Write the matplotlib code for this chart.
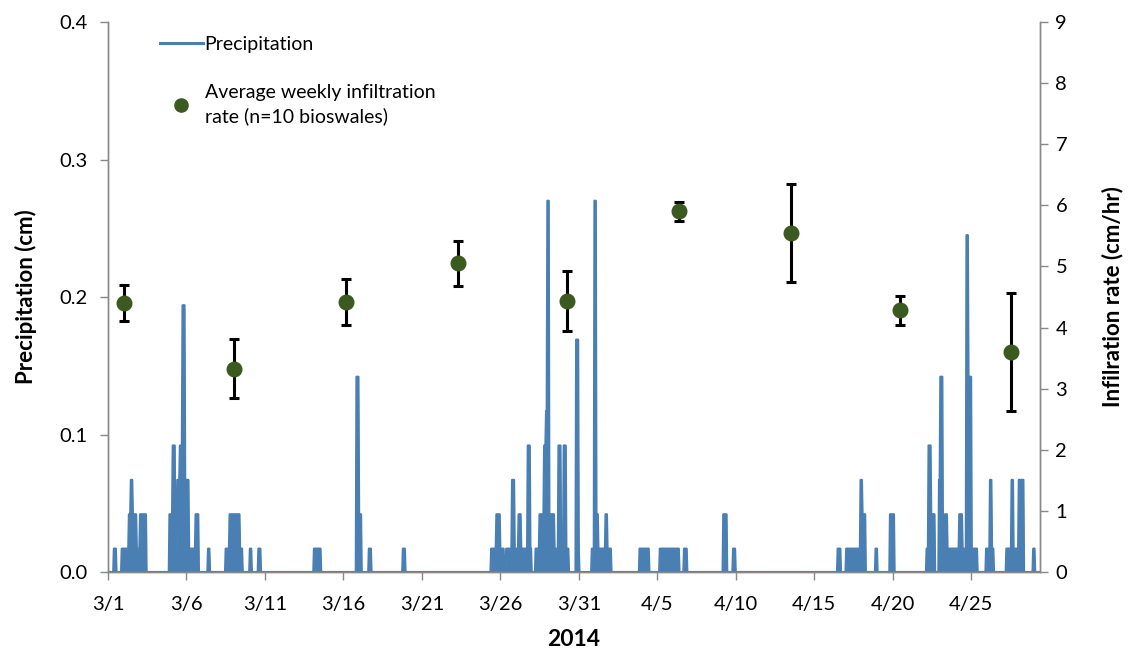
import numpy as np
import matplotlib
matplotlib.use("Agg")
import matplotlib.pyplot as plt
from matplotlib.lines import Line2D

plt.rcParams['font.family'] = ['Lato', 'DejaVu Sans']

seg_start = [0.34, 0.87, 1.30, 1.45, 1.55, 1.83, 2.04, 3.91, 4.12, 4.27, 4.40, 4.58, 4.75, 4.90,
             5.14, 5.58, 6.35, 7.50, 7.71, 8.41, 9.01, 9.58, 13.09, 15.83, 15.98, 16.59, 18.78,
             24.39, 24.73, 24.98, 25.37, 25.73, 25.88, 26.15, 26.30, 26.75, 26.90, 27.22, 27.47,
             27.79, 27.90, 27.98, 28.11, 28.43, 28.70, 28.85, 29.02, 29.17, 29.81, 29.96, 30.83,
             31.00, 31.12, 31.25, 31.68, 31.80, 33.86, 35.14, 36.67, 39.18, 39.81, 46.50, 47.04,
             47.93, 48.08, 48.89, 49.82, 52.14, 52.29, 52.45, 52.92, 53.03, 53.17, 53.33, 53.47,
             54.22, 54.45, 54.68, 54.83, 55.04, 55.92, 56.17, 56.32, 57.24, 57.55, 57.70, 58.02,
             58.95]
seg_end = [0.51, 1.30, 1.45, 1.55, 1.83, 2.04, 2.45, 4.12, 4.27, 4.40, 4.58, 4.75, 4.90, 5.14,
           5.58, 5.76, 6.50, 7.71, 8.41, 8.55, 9.16, 9.73, 13.55, 15.98, 16.15, 16.78, 18.93,
           24.73, 24.98, 25.24, 25.73, 25.88, 26.15, 26.30, 26.75, 26.90, 26.96, 27.47, 27.79,
           27.90, 27.98, 28.11, 28.43, 28.70, 28.85, 29.02, 29.17, 29.34, 29.96, 30.02, 31.00,
           31.12, 31.25, 31.68, 31.80, 32.06, 34.50, 36.41, 36.88, 39.45, 39.98, 46.70, 47.93,
           48.08, 48.29, 49.03, 50.12, 52.29, 52.45, 52.68, 53.03, 53.17, 53.33, 53.47, 54.22,
           54.45, 54.68, 54.83, 55.04, 55.40, 56.17, 56.32, 56.42, 57.55, 57.70, 58.02, 58.34,
           59.08]
seg_value = [0.017, 0.017, 0.042, 0.067, 0.042, 0.017, 0.042, 0.042, 0.092, 0.017, 0.067, 0.092,
             0.194, 0.067, 0.017, 0.042, 0.017, 0.017, 0.042, 0.017, 0.017, 0.017, 0.017, 0.142,
             0.042, 0.017, 0.017, 0.017, 0.042, 0.017, 0.017, 0.067, 0.017, 0.042, 0.017, 0.092,
             0.017, 0.017, 0.042, 0.092, 0.117, 0.270, 0.042, 0.017, 0.092, 0.017, 0.092, 0.017,
             0.169, 0.017, 0.017, 0.270, 0.042, 0.017, 0.042, 0.017, 0.017, 0.017, 0.017, 0.042,
             0.017, 0.017, 0.017, 0.067, 0.042, 0.017, 0.042, 0.017, 0.092, 0.042, 0.067, 0.142,
             0.017, 0.042, 0.017, 0.042, 0.017, 0.245, 0.142, 0.017, 0.017, 0.067, 0.017, 0.017,
             0.067, 0.017, 0.067, 0.017]

# Weekly infiltration (days after 3/1, cm/hr, +/- error)
inf_day = [1.02, 8.03, 15.17, 22.30, 29.25, 36.40, 43.50, 50.50, 57.55]
inf_rate = [4.40, 3.33, 4.42, 5.05, 4.43, 5.90, 5.55, 4.28, 3.60]
inf_err = [0.30, 0.49, 0.38, 0.37, 0.49, 0.16, 0.80, 0.23, 0.97]

tick_days = [0, 5, 10, 15, 20, 25, 30, 35, 40, 45, 50, 55]
tick_labels = ['3/1', '3/6', '3/11', '3/16', '3/21', '3/26', '3/31', '4/5', '4/10', '4/15', '4/20', '4/25']

# build the hourly series from the runs
hours = np.arange(0, 59.4 * 24) / 24.0
precip = np.zeros(len(hours))
for s, e, v in zip(seg_start, seg_end, seg_value):
    precip[(hours >= s) & (hours < e)] = v

blue = '#4a7fb3'
green = '#3a5a1f'
grey = '#898989'

fig = plt.figure(figsize=(11.37, 6.53), dpi=100)
ax = fig.add_axes([0.095, 0.124, 0.8198, 0.8423])
ax2 = ax.twinx()

# the hourly record is so dense in the original that the bursts read as solid
ax.fill_between(hours, precip, 0, color=blue, lw=0)
ax.plot(hours, precip, color=blue, lw=1.6)
ax2.errorbar(inf_day, inf_rate, yerr=inf_err, fmt='o', color=green, ms=10.5,
             ecolor='black', elinewidth=2.2, capsize=3.5, capthick=2.2)

ax.set_xlim(0, 59.4)
ax.set_ylim(0, 0.4)
ax2.set_ylim(0, 9)
ax.set_yticks([0, 0.1, 0.2, 0.3, 0.4])
ax.set_yticklabels(['0.0', '0.1', '0.2', '0.3', '0.4'])
ax2.set_yticks(range(0, 10))
ax.set_xticks(tick_days)
ax.set_xticklabels(tick_labels)

for a in (ax, ax2):
    a.spines['top'].set_visible(False)
    for side in ('left', 'right', 'bottom'):
        a.spines[side].set_color(grey)
        a.spines[side].set_linewidth(1.0)
    a.tick_params(axis='both', colors=grey, labelcolor='black', labelsize=14.5,
                  direction='out', length=6, width=1)
ax.tick_params(axis='y', pad=9)
ax.tick_params(axis='x', pad=11)
ax2.tick_params(axis='y', pad=5)

ax.set_ylabel('Precipitation (cm)', fontsize=16, fontweight='bold', labelpad=16)
ax2.set_ylabel('Infilration rate (cm/hr)', fontsize=16, fontweight='bold', labelpad=25)
ax.set_xlabel('2014', fontsize=16.5, fontweight='bold', labelpad=12)

handles = [Line2D([], [], color=blue, lw=2.2),
           Line2D([], [], ls='none', marker='o', ms=9.5, color=green)]
leg = ax2.legend(handles, ['Precipitation', 'Average weekly infiltration\nrate (n=10 bioswales)'],
                 loc='upper left', bbox_to_anchor=(0.0558, 0.975), frameon=False, fontsize=14,
                 borderaxespad=0, borderpad=0,
                 handlelength=2.2, handletextpad=0.1, labelspacing=1.6)
for t in leg.get_texts():
    t.set_linespacing(1.45)

fig.savefig('out.png', dpi=100)
